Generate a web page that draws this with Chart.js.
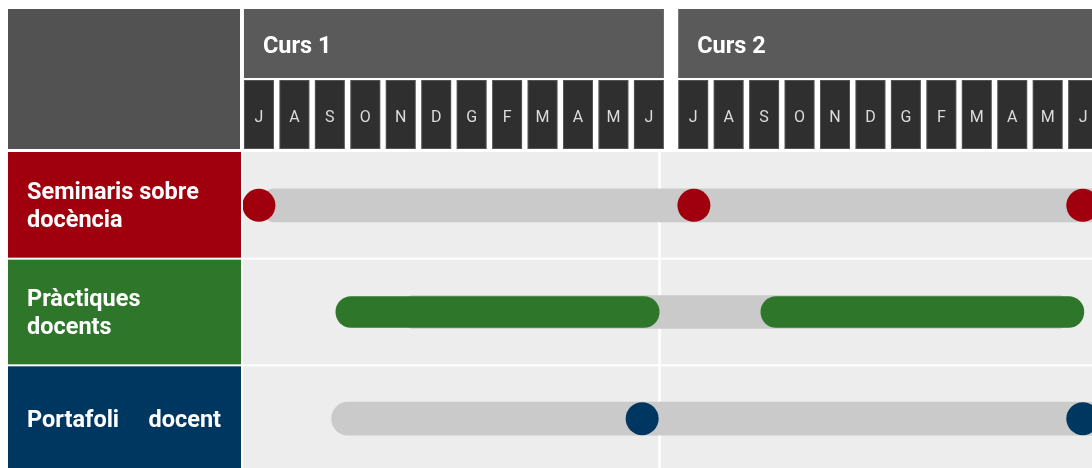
<!DOCTYPE html>
<html>
<head>
<meta charset="utf-8">
<script src="https://cdn.jsdelivr.net/npm/chart.js@4.4.1/dist/chart.umd.min.js"></script>
<style>
  html, body { margin: 0; padding: 0; background: #fff; overflow: hidden; }
  canvas { display: block; }
</style>
</head>
<body>
<canvas id="timeline" width="1092" height="472"></canvas>
<script>
// months of one course, July to June
const months = ['J', 'A', 'S', 'O', 'N', 'D', 'G', 'F', 'M', 'A', 'M', 'J'];
const courses = ['Curs 1', 'Curs 2'];
const courseStart = [0, 12.25]; // x value of each course's first month

const rows = ['Seminaris sobre docència', 'Pràctiques docents', 'Portafoli docent'];
const rowLines = [['Seminaris sobre', 'docència'], ['Pràctiques', 'docents'], ['Portafoli docent']];
const rowJustify = [false, false, true];
const rowColors = ['#a0000e', '#2e7629', '#003761'];

// grey background tracks per row [start, end]
const trackSpans = [[0, 24], [3.9, 23.0], [2.05, 24]];
// green periods of Pràctiques docents
const practiquesSpans = [[2.17, 11.29], [14.16, 23.27]];
// milestone dots
const seminarisDots = [0, 12.27, 23.24];
const portafoliDots = [10.81, 23.24];
// white divider between the two courses
const courseDivider = 11.3;

const timelineFrame = {
  id: 'timelineFrame',
  beforeDatasetsDraw(chart) {
    const { ctx, chartArea: a, scales: { x, y } } = chart;
    const step = x.getPixelForValue(1) - x.getPixelForValue(0);
    const half = step * 0.423;
    const bound = i => (y.getPixelForValue(i) + y.getPixelForValue(i + 1)) / 2;

    ctx.save();
    // plot background
    ctx.fillStyle = '#ededed';
    ctx.fillRect(a.left, a.top, a.right - a.left, a.bottom - a.top);

    // white separators
    ctx.fillStyle = '#ffffff';
    for (let i = 0; i < rows.length - 1; i++) {
      ctx.fillRect(a.left, bound(i) - 1, a.right - a.left, 2);
    }
    const dx = x.getPixelForValue(courseDivider);
    ctx.fillRect(dx - 1.25, a.top, 2.5, a.bottom - a.top);

    // row label boxes
    rows.forEach((r, i) => {
      const top = i === 0 ? a.top : bound(i - 1) + 1;
      const bottom = i === rows.length - 1 ? a.bottom : bound(i) - 1;
      ctx.fillStyle = rowColors[i];
      ctx.fillRect(8, top, a.left - 10, bottom - top);

      ctx.fillStyle = '#ffffff';
      ctx.font = 'bold 23.5px Roboto';
      ctx.textAlign = 'left';
      ctx.textBaseline = 'alphabetic';
      const cy = y.getPixelForValue(i);
      const lines = rowLines[i];
      lines.forEach((line, k) => {
        const base = cy + 8 + (k - (lines.length - 1) / 2) * 28;
        if (rowJustify[i]) {
          const words = line.split(' ');
          const left = 27, right = a.left - 22;
          const wordsW = words.reduce((s, w) => s + ctx.measureText(w).width, 0);
          const gap = (right - left - wordsW) / (words.length - 1);
          let px = left;
          words.forEach(w => {
            ctx.fillText(w, px, base);
            px += ctx.measureText(w).width + gap;
          });
        } else {
          ctx.fillText(line, 27, base);
        }
      });
    });

    // header: empty corner box
    ctx.fillStyle = '#525252';
    ctx.fillRect(8, 9, a.left - 11, 140);

    courses.forEach((c, ci) => {
      const first = x.getPixelForValue(courseStart[ci]) - half;
      const last = x.getPixelForValue(courseStart[ci] + months.length - 1) + half;
      ctx.fillStyle = '#5a5a5a';
      ctx.fillRect(first, 9, last - first, 69);
      ctx.fillStyle = '#ffffff';
      ctx.font = 'bold 23.5px Roboto';
      ctx.textAlign = 'left';
      ctx.fillText(c, first + 19, 52.5);

      months.forEach((m, mi) => {
        const cx = x.getPixelForValue(courseStart[ci] + mi);
        ctx.fillStyle = '#2f2f2f';
        ctx.fillRect(cx - half, 80, half * 2, 69);
        ctx.strokeStyle = 'rgba(255,255,255,0.18)';
        ctx.lineWidth = 1;
        ctx.strokeRect(cx - half + 0.5, 80.5, half * 2 - 1, 68);
        ctx.fillStyle = '#dcdcdc';
        ctx.font = '16px Roboto';
        ctx.textAlign = 'center';
        ctx.fillText(m, cx, 121.5);
      });
    });
    ctx.restore();
  }
};

const ctx = document.getElementById('timeline').getContext('2d');
new Chart(ctx, {
  type: 'bar',
  data: {
    labels: rows,
    datasets: [
      {
        type: 'scatter',
        data: seminarisDots.map(v => ({ x: v, y: rows[0] })),
        backgroundColor: rowColors[0],
        borderWidth: 0,
        pointRadius: 16.5,
        pointHoverRadius: 16.5,
        order: 0,
      },
      {
        type: 'scatter',
        data: portafoliDots.map(v => ({ x: v, y: rows[2] })),
        backgroundColor: rowColors[2],
        borderWidth: 0,
        pointRadius: 16.5,
        pointHoverRadius: 16.5,
        order: 0,
      },
      {
        data: practiquesSpans.map(s => ({ x: s, y: rows[1] })),
        backgroundColor: rowColors[1],
        barThickness: 31,
        borderRadius: 20,
        borderSkipped: false,
        grouped: false,
        order: 1,
      },
      {
        data: trackSpans,
        backgroundColor: '#cacaca',
        barThickness: 33,
        borderRadius: 20,
        borderSkipped: false,
        grouped: false,
        order: 2,
      },
    ],
  },
  options: {
    indexAxis: 'y',
    responsive: false,
    animation: false,
    events: [],
    // no auto padding, otherwise the big dots shrink the plot area
    layout: { autoPadding: false, padding: { left: 243, top: 152, right: 0, bottom: 0 } },
    scales: {
      x: { type: 'linear', min: -0.45, max: 23.5, display: false },
      y: { type: 'category', labels: rows, offset: true, display: false },
    },
    plugins: {
      legend: { display: false },
      tooltip: { enabled: false },
    },
  },
  plugins: [timelineFrame],
});
</script>
</body>
</html>
